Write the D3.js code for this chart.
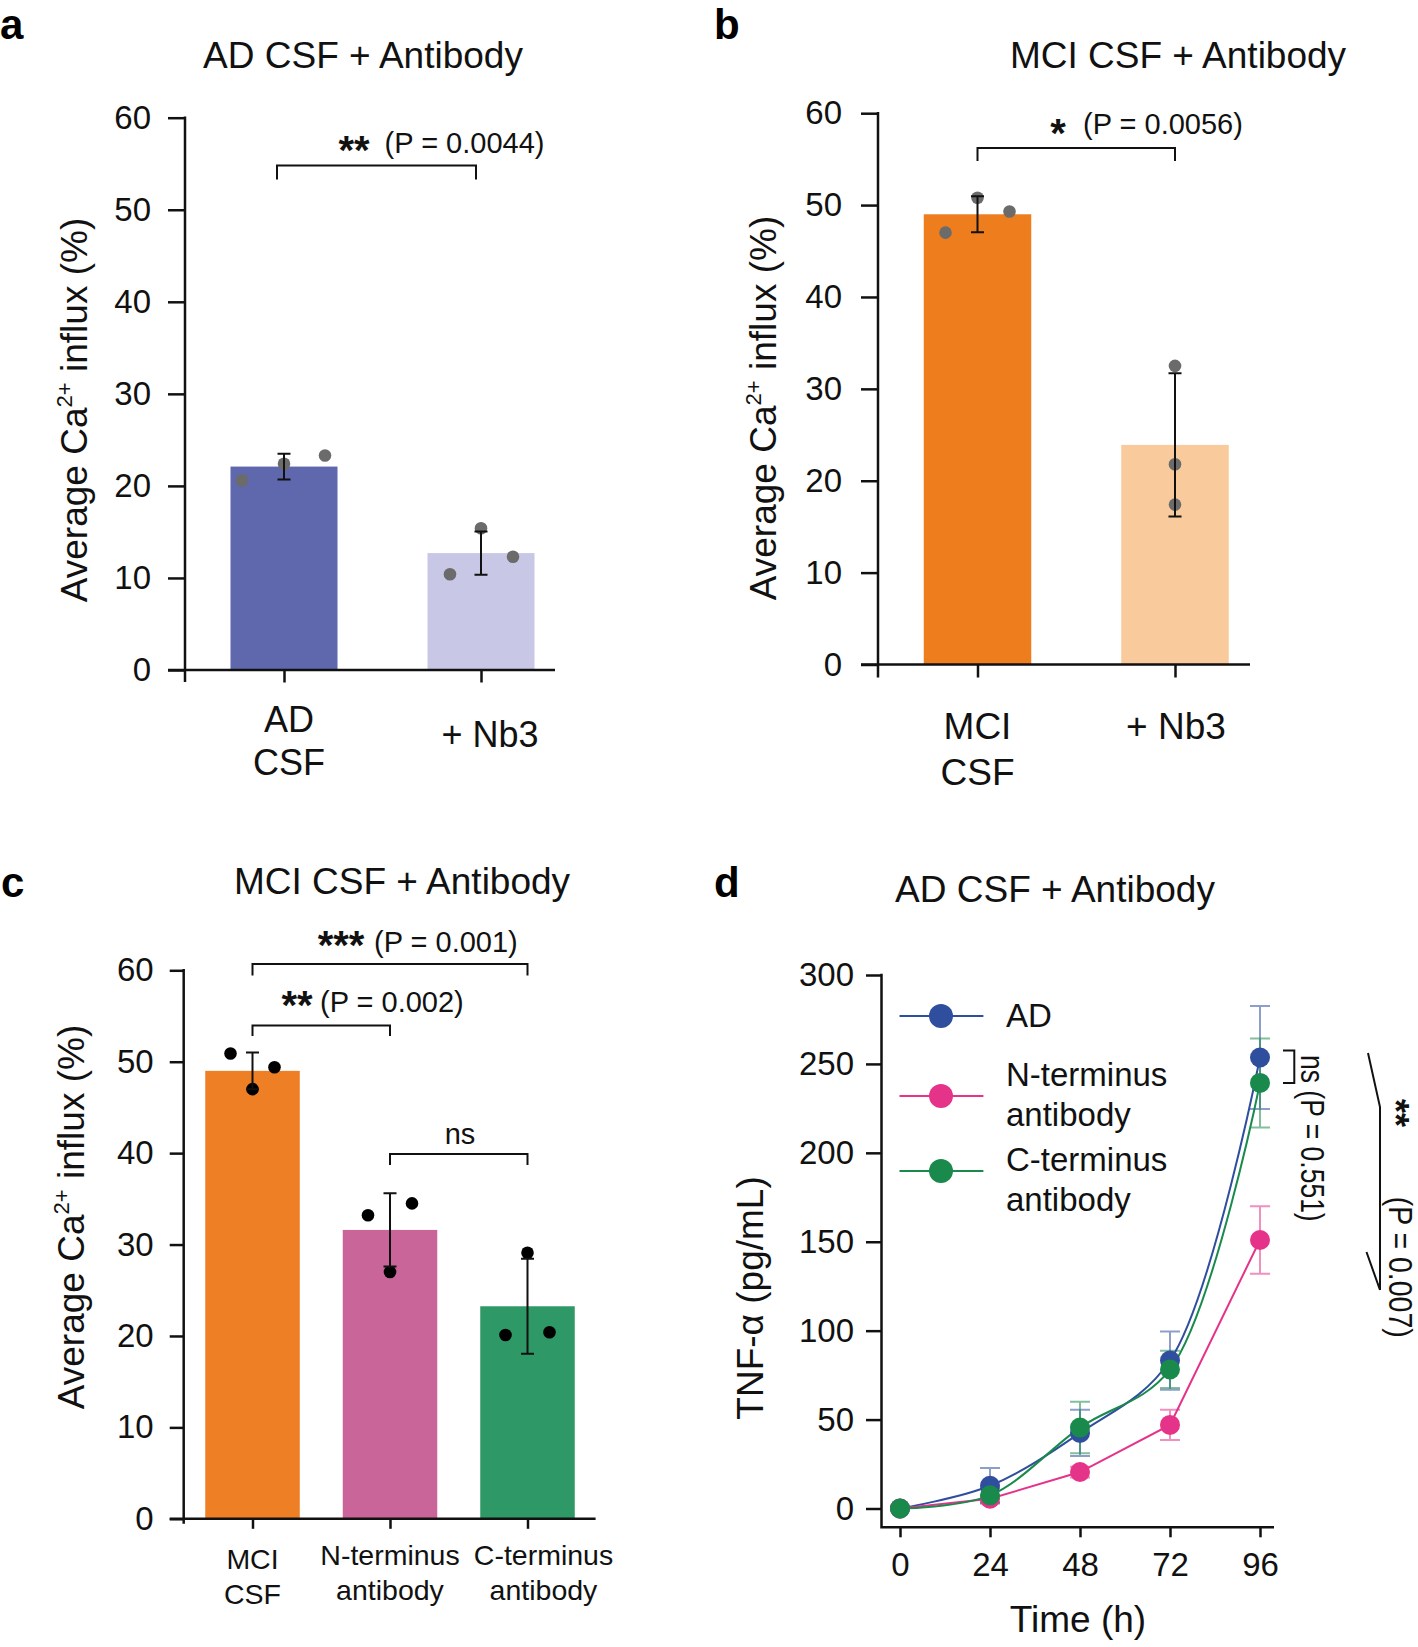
<!DOCTYPE html>
<html><head><meta charset="utf-8">
<script src="https://cdn.jsdelivr.net/npm/d3@7"></script>
<style>body{margin:0;background:#fff} svg{display:block}</style>
</head><body>
<svg id="c" width="1418" height="1647"></svg>
<script>
// ---------------- DATA ----------------
const barTicks = [0, 10, 20, 30, 40, 50, 60];

const aTitle = "AD CSF + Antibody";
const aCategories = [["AD", "CSF"], ["+ Nb3"]];
const aMeans = [22.1, 12.7];
const aSD = [1.4, 2.35];
const aPoints = [[20.6, 22.4, 23.3], [10.4, 15.4, 12.3]];
const aBracketValue = 54.8;
const aStars = "**";
const aP = "(P = 0.0044)";

const bTitle = "MCI CSF + Antibody";
const bCategories = [["MCI", "CSF"], ["+ Nb3"]];
const bMeans = [49.0, 23.9];
const bSD = [1.95, 7.8];
const bPoints = [[47.0, 50.8, 49.3], [32.5, 21.8, 17.4]];
const bBracketValue = 56.2;
const bStars = "*";
const bP = "(P = 0.0056)";

const cTitle = "MCI CSF + Antibody";
const cCategories = [["MCI", "CSF"], ["N-terminus", "antibody"], ["C-terminus", "antibody"]];
const cMeans = [49.0, 31.6, 23.25];
const cSD = [2.0, 4.0, 5.2];
const cPoints = [[50.9, 47.0, 49.4], [33.2, 27.0, 34.5], [20.1, 29.1, 20.4]];
const cBrackets = [
  {from: 0, to: 2, value: 60.7, stars: "***", p: "(P = 0.001)"},
  {from: 0, to: 1, value: 53.95, stars: "**", p: "(P = 0.002)"},
  {from: 1, to: 2, value: 39.9, stars: "", p: "ns"}
];

const dTitle = "AD CSF + Antibody";
const dHours = [0, 24, 48, 72, 96];
const dTicksY = [0, 50, 100, 150, 200, 250, 300];
const dSeriesNames = ["AD", "N-terminus antibody", "C-terminus antibody"];
const dAD = [0, 12.8, 42.5, 83.2, 253.6];
const dADsd = [0, 10, 13, 16.4, 29];
const dN = [0, 5.5, 20.5, 47, 151];
const dNsd = [0, 2, 3, 8.5, 19];
const dC = [0, 7.4, 45.5, 78.2, 239.3];
const dCsd = [0, 4, 14.5, 10.5, 25];
const dNsText = "ns (P = 0.551)";
const dStarText = "**";
const dPText = "(P = 0.007)";

// ---------------- DRAWING ----------------
const svg = d3.select("#c");
const FONT = '"Liberation Sans", Arial, Helvetica, sans-serif';
const NARROW = '"Liberation Sans Narrow", "Liberation Sans", Arial, sans-serif';
const INK = "#111";

function text(g, s, x, y, size, o = {}) {
  return g.append("text").attr("x", x).attr("y", y).attr("font-size", size)
    .attr("font-family", o.family || FONT).attr("font-weight", o.weight || "normal")
    .attr("text-anchor", o.anchor || "start").attr("fill", o.fill || INK).text(s);
}

function yLabelCa(g, x, y, size) {
  const t = g.append("text").attr("transform", `translate(${x},${y}) rotate(-90)`)
    .attr("text-anchor", "middle").attr("font-size", size).attr("font-family", FONT).attr("fill", INK);
  t.append("tspan").text("Average Ca");
  t.append("tspan").attr("font-size", size * 0.6).attr("dy", -size * 0.4).text("2+");
  t.append("tspan").attr("dy", size * 0.4).text(" influx (%)");
}

function stars(g, s, cx, cy, size) {
  if (!s) return;
  text(g, s, cx, cy + 0.46 * size, size, {anchor: "middle", weight: "bold"});
}

function barPanel(p) {
  const g = svg.append("g");
  const y = d3.scaleLinear().domain([0, 60]).range([p.y0, p.y60]);
  const x = d3.scalePoint().domain(d3.range(p.means.length)).range([p.c0, p.c1]);

  g.selectAll("rect.bar").data(p.means).join("rect").attr("class", "bar")
    .attr("x", (d, i) => x(i) - p.barW / 2).attr("y", d => y(d))
    .attr("width", p.barW).attr("height", d => y(0) - y(d))
    .attr("fill", (d, i) => p.colors[i]);

  p.points.forEach((pts, i) => {
    g.selectAll(null).data(pts).join("circle")
      .attr("cx", (d, j) => x(i) + p.jitter[i][j]).attr("cy", d => y(d))
      .attr("r", p.dotR).attr("fill", p.dotColor);
  });

  p.means.forEach((m, i) => {
    const cx = x(i), lo = y(m - p.sd[i]), hi = y(m + p.sd[i]);
    g.append("path").attr("d", `M${cx},${lo}V${hi}M${cx - 6.5},${hi}H${cx + 6.5}M${cx - 6.5},${lo}H${cx + 6.5}`)
      .attr("stroke", INK).attr("stroke-width", 2).attr("fill", "none");
  });

  const yg = g.append("g").attr("transform", `translate(${p.axisX},0)`)
    .call(d3.axisLeft(y).tickValues(barTicks).tickSizeInner(p.tickLen).tickSizeOuter(0).tickPadding(p.pad));
  yg.select(".domain").remove();
  yg.selectAll("line").attr("stroke", INK).attr("stroke-width", 2.5);
  yg.selectAll("text").attr("font-size", 33).attr("font-family", FONT).attr("fill", INK);
  g.append("line").attr("x1", p.axisX).attr("x2", p.axisX).attr("y1", y(60) - 1.2).attr("y2", y(0) + p.yExt)
    .attr("stroke", INK).attr("stroke-width", 2.5);

  const xg = g.append("g").attr("transform", `translate(0,${y(0)})`)
    .call(d3.axisBottom(x).tickSizeInner(p.xTickLen).tickSizeOuter(0).tickFormat(""));
  xg.select(".domain").remove();
  xg.selectAll("line").attr("stroke", INK).attr("stroke-width", 2.5);
  g.append("line").attr("x1", p.axisX - p.tickLen).attr("x2", p.xEnd).attr("y1", y(0)).attr("y2", y(0))
    .attr("stroke", INK).attr("stroke-width", 2.5);

  p.cats.forEach((lines, i) => {
    lines.forEach((ln, k) => {
      text(g, ln, x(i) + p.catDx[i], p.catY[i] + k * p.catLH, p.catSize, {anchor: "middle"});
    });
  });

  p.brackets.forEach(b => {
    const x1 = x(b.from) + (b.dx1 || 0), x2 = x(b.to) + (b.dx2 || 0), yy = y(b.value);
    g.append("path").attr("d", `M${x1},${yy + b.leg}V${yy}H${x2}V${yy + b.leg}`)
      .attr("stroke", INK).attr("stroke-width", 2).attr("fill", "none");
    stars(g, b.stars, b.sx, b.sy, b.ssize);
    text(g, b.p, b.px, b.py, 29, {anchor: b.panchor || "start"});
  });

  text(g, p.title, p.titleX, p.titleY, 37, {anchor: "middle"});
  text(g, p.letter, p.letterX, p.letterY, 42, {weight: "bold", fill: "#000"});
  yLabelCa(g, p.ylX, p.ylY, 37);
}

// Panel a
barPanel({
  means: aMeans, sd: aSD, points: aPoints, cats: aCategories,
  colors: ["#5f67ad", "#c8c7e5"], dotColor: "#6b6b6b", dotR: 6.3,
  jitter: [[-42, 0, 41], [-31, 0, 32]],
  y0: 670, y60: 117.7, c0: 284, c1: 481, barW: 107,
  axisX: 185, tickLen: 17, pad: 17, yExt: 12, xTickLen: 12.5, xEnd: 555,
  catY: [732, 747], catLH: 43, catSize: 36, catDx: [5, 9],
  brackets: [{from: 0, to: 1, dx1: -7, dx2: -5, value: aBracketValue, leg: 14,
    stars: aStars, sx: 354, sy: 146, ssize: 40, p: aP, px: 384.6, py: 153}],
  title: aTitle, titleX: 363, titleY: 68,
  letter: "a", letterX: 0, letterY: 39, ylX: 86.5, ylY: 410
});

// Panel b
barPanel({
  means: bMeans, sd: bSD, points: bPoints, cats: bCategories,
  colors: ["#ee7d1e", "#f9ca9b"], dotColor: "#6b6b6b", dotR: 6.3,
  jitter: [[-32, 0, 32], [0, 0, 0]],
  y0: 664.5, y60: 113.2, c0: 977.5, c1: 1175, barW: 107.5,
  axisX: 878, tickLen: 17, pad: 19, yExt: 13, xTickLen: 13, xEnd: 1250,
  catY: [739, 739], catLH: 46, catSize: 37, catDx: [0, 1],
  brackets: [{from: 0, to: 1, value: bBracketValue, leg: 13,
    stars: bStars, sx: 1058, sy: 129, ssize: 40, p: bP, px: 1083, py: 134}],
  title: bTitle, titleX: 1178, titleY: 68,
  letter: "b", letterX: 714, letterY: 39, ylX: 776, ylY: 408
});

// Panel c
barPanel({
  means: cMeans, sd: cSD, points: cPoints, cats: cCategories,
  colors: ["#ee7f24", "#c96598", "#2e9966"], dotColor: "#000", dotR: 6.3,
  jitter: [[-22, 0, 22], [-22, 0, 22], [-22, 0, 22]],
  y0: 1518.8, y60: 970.3, c0: 252.5, c1: 527.5, barW: 94.5,
  axisX: 183.7, tickLen: 14, pad: 16, yExt: 5, xTickLen: 10, xEnd: 595.6,
  catY: [1569, 1565, 1565], catLH: 35, catSize: 28.5, catDx: [0, 0, 16],
  brackets: [
    {from: cBrackets[0].from, to: cBrackets[0].to, value: cBrackets[0].value, leg: 11.6,
      stars: cBrackets[0].stars, sx: 341, sy: 941, ssize: 40, p: cBrackets[0].p, px: 374, py: 952},
    {from: cBrackets[1].from, to: cBrackets[1].to, value: cBrackets[1].value, leg: 10.5,
      stars: cBrackets[1].stars, sx: 297, sy: 1001, ssize: 40, p: cBrackets[1].p, px: 320, py: 1012},
    {from: cBrackets[2].from, to: cBrackets[2].to, value: cBrackets[2].value, leg: 11,
      stars: cBrackets[2].stars, sx: 0, sy: 0, ssize: 40, p: cBrackets[2].p, px: 460, py: 1144, panchor: "middle"}
  ],
  title: cTitle, titleX: 402, titleY: 894,
  letter: "c", letterX: 1, letterY: 897, ylX: 84, ylY: 1217
});

// Panel d
(function () {
  const g = svg.append("g");
  const x = d3.scaleLinear().domain([0, 96]).range([900, 1260]);
  const y = d3.scaleLinear().domain([0, 300]).range([1508.5, 975]);
  const axisX = 881.5, axisY = 1527.3;
  const colors = ["#2f4e9e", "#e5338a", "#1a8a4c"];
  const series = [
    {name: dSeriesNames[0], v: dAD, sd: dADsd, curve: d3.curveCatmullRom},
    {name: dSeriesNames[1], v: dN, sd: dNsd, curve: d3.curveLinear},
    {name: dSeriesNames[2], v: dC, sd: dCsd, curve: d3.curveCatmullRom}
  ];

  const yg = g.append("g").attr("transform", `translate(${axisX},0)`)
    .call(d3.axisLeft(y).tickValues(dTicksY).tickSizeInner(15.5).tickSizeOuter(0).tickPadding(12));
  yg.select(".domain").remove();
  yg.selectAll("line").attr("stroke", INK).attr("stroke-width", 2.5);
  yg.selectAll("text").attr("font-size", 33).attr("font-family", FONT).attr("fill", INK);
  const xg = g.append("g").attr("transform", `translate(0,${axisY})`)
    .call(d3.axisBottom(x).tickValues(dHours).tickSizeInner(10).tickSizeOuter(0).tickPadding(15));
  xg.select(".domain").remove();
  xg.selectAll("line").attr("stroke", INK).attr("stroke-width", 2.5);
  xg.selectAll("text").attr("font-size", 33).attr("font-family", FONT).attr("fill", INK);
  g.append("path").attr("d", `M${axisX},${y(300) - 1.2}V${axisY}H1274`)
    .attr("stroke", INK).attr("stroke-width", 2.5).attr("fill", "none");

  series.forEach((s, si) => {
    s.v.forEach((v, i) => {
      if (!s.sd[i]) return;
      const cx = x(dHours[i]), lo = y(v - s.sd[i]), hi = y(v + s.sd[i]);
      g.append("path").attr("d", `M${cx},${lo}V${hi}M${cx - 10},${hi}H${cx + 10}M${cx - 10},${lo}H${cx + 10}`)
        .attr("stroke", colors[si]).attr("stroke-opacity", 0.55).attr("stroke-width", 2).attr("fill", "none");
    });
  });
  series.forEach((s, si) => {
    const line = d3.line().x((d, i) => x(dHours[i])).y(d => y(d)).curve(s.curve);
    g.append("path").attr("d", line(s.v)).attr("stroke", colors[si]).attr("stroke-width", 2).attr("fill", "none");
  });
  series.forEach((s, si) => {
    g.selectAll(null).data(s.v).join("circle")
      .attr("cx", (d, i) => x(dHours[i])).attr("cy", d => y(d)).attr("r", 10).attr("fill", colors[si]);
  });

  const legY = [1016, 1096, 1171];
  const legText = [["AD"], ["N-terminus", "antibody"], ["C-terminus", "antibody"]];
  const legTextY = [1027, 1086, 1171];
  series.forEach((s, si) => {
    g.append("line").attr("x1", 899.5).attr("x2", 983.4).attr("y1", legY[si]).attr("y2", legY[si])
      .attr("stroke", colors[si]).attr("stroke-width", 2);
    g.append("circle").attr("cx", 941).attr("cy", legY[si]).attr("r", 12).attr("fill", colors[si]);
    legText[si].forEach((t, k) => text(g, t, 1006, legTextY[si] + k * 39.5, 33));
  });

  text(g, "Time (h)", 1078, 1632, 37, {anchor: "middle"});
  g.append("text").attr("transform", "translate(762.5,1298) rotate(-90)").attr("text-anchor", "middle")
    .attr("font-size", 37).attr("font-family", FONT).attr("fill", INK).text("TNF-\u03b1 (pg/mL)");

  const yA = y(dAD[4]) - 7, yC = y(dC[4]);
  g.append("path").attr("d", `M1283,${yA}H1294.3V${yC}H1283`).attr("stroke", INK).attr("stroke-width", 2).attr("fill", "none");
  g.append("text").attr("transform", "translate(1301,1055) rotate(90)").attr("font-size", 33)
    .attr("font-family", NARROW).attr("fill", INK).attr("textLength", 166.7).attr("lengthAdjust", "spacingAndGlyphs").text(dNsText);

  g.append("path").attr("d", "M1368,1053L1380,1107V1290M1366.5,1252L1380,1290")
    .attr("stroke", INK).attr("stroke-width", 2).attr("fill", "none");
  g.append("text").attr("transform", `translate(${1400 - 0.47 * 36},1099) rotate(90)`).attr("font-size", 36)
    .attr("font-weight", "bold").attr("font-family", FONT).attr("fill", INK).text(dStarText);
  g.append("text").attr("transform", "translate(1389,1196.7) rotate(90)").attr("font-size", 33)
    .attr("font-family", NARROW).attr("fill", INK).attr("textLength", 141).attr("lengthAdjust", "spacingAndGlyphs").text(dPText);

  text(g, dTitle, 1055, 902, 37, {anchor: "middle"});
  text(g, "d", 714, 897, 42, {weight: "bold", fill: "#000"});
})();
</script>
</body></html>
